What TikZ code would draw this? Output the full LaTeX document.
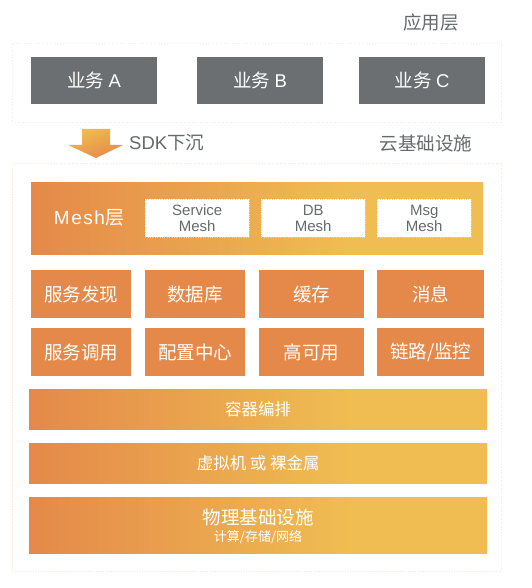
\documentclass[tikz,border=0pt]{standalone}
\usepackage{fontspec}
\setmainfont{Noto Sans CJK SC}
\newfontfamily\lat{Liberation Sans}
\newfontfamily\latsp[LetterSpace=8]{Liberation Sans}
\usetikzlibrary{positioning}
\definecolor{txtgray}{HTML}{666A6C}
\definecolor{boxgray}{HTML}{6B6F71}
\definecolor{org}{HTML}{E5894A}
\definecolor{yel}{HTML}{F0BD52}
\definecolor{midc}{HTML}{ECAE4F}
\definecolor{framegray}{HTML}{EDEDED}
\definecolor{frameorg}{HTML}{FBE6D6}
\pgfdeclarehorizontalshading{layershade}{100bp}{color(0bp)=(org); color(25bp)=(org); color(50bp)=(midc); color(60bp)=(yel); color(100bp)=(yel)}
\tikzset{
  lbl/.style={text=txtgray, font=\fontsize{18.5}{21}\selectfont, inner sep=0pt},
  frame/.style={draw=framegray, line width=0.6pt, dotted},
  biz/.style={fill=boxgray, text=white, font=\fontsize{18.5}{21}\selectfont, anchor=north west, inner sep=0pt, minimum width=126pt, minimum height=47pt},
  comp/.style={fill=org, text=white, font=\fontsize{18.5}{21}\selectfont, anchor=north west, inner sep=0pt, minimum height=48pt},
  meshbox/.style={fill=white, draw=white!85!black, dotted, line width=0.4pt, text=txtgray, font=\lat\fontsize{15}{16}\selectfont, align=center, anchor=north west, inner sep=0pt, minimum height=38pt},
  layer/.style={shading=layershade, text=white, anchor=north west, inner sep=0pt, minimum width=458pt, align=center},
}
\begin{document}
\begin{tikzpicture}[x=1pt,y=-1pt]
\useasboundingbox (0,0) rectangle (531,588);
\fill[white] (0,0) rectangle (531,588);
% frames
\node[frame, anchor=north west, minimum width=489pt, minimum height=79pt, inner sep=0pt] (appframe) at (12,43) {};
\node[frame, draw=frameorg, anchor=north west, minimum width=489pt, minimum height=408pt, inner sep=0pt] (cloudframe) at (12,163) {};
% labels
\node[lbl] (applbl) at (431,22) {应用层};
\node[lbl] (cloudlbl) at (426,143) {云基础设施};
\node[lbl, anchor=west] (sdk) at (129,143) {{\lat SDK}下沉};
% business boxes
\node[biz] (bizA) at (31,57) {业务 {\lat A}};
\node[biz] (bizB) at (197,57) {业务 {\lat B}};
\node[biz] (bizC) at (359,57) {业务 {\lat C}};
% arrow
\shade[top color=yel, bottom color=org, shading angle=20]
  (82,129) -- (110,129) -- (110,145) -- (123,145) -- (96,158) -- (68,145) -- (82,145) -- cycle;
% mesh layer
\node[layer, minimum width=452pt, minimum height=72pt] (mesh) at (31,182) {};
\node[text=white, font=\fontsize{19}{21}\selectfont, inner sep=0pt] (meshlbl) at (89,218) {{\latsp Mesh}层};
\node[meshbox, minimum width=104pt] (svc) at (145,199) {Service\\Mesh};
\node[meshbox, minimum width=104pt] (db) at (261,199) {DB\\Mesh};
\node[meshbox, minimum width=94pt] (msg) at (377,199) {Msg\\Mesh};
% component rows
\node[comp, minimum width=100pt] (c11) at (31,270) {服务发现};
\node[comp, minimum width=100pt] (c12) at (145,270) {数据库};
\node[comp, minimum width=105pt] (c13) at (259,270) {缓存};
\node[comp, minimum width=107pt] (c14) at (377,270) {消息};
\node[comp, minimum width=100pt] (c21) at (31,328) {服务调用};
\node[comp, minimum width=100pt] (c22) at (145,328) {配置中心};
\node[comp, minimum width=105pt] (c23) at (259,328) {高可用};
\node[comp, minimum width=107pt] (c24) at (377,328) {链路/监控};
% bottom layers
\node[layer, minimum height=40pt, font=\fontsize{16.5}{18}\selectfont] (k8s) at (29,389) {容器编排};
\node[layer, minimum height=40pt, font=\fontsize{16.5}{18}\selectfont] (vm) at (29,443) {虚拟机 或 裸金属};
\node[layer, minimum height=56pt] (phys) at (29,497) {};
\node[text=white, font=\fontsize{18.5}{20}\selectfont, inner sep=0pt] (physlbl) at (258,517) {物理基础设施};
\node[text=white, font=\fontsize{13}{14}\selectfont, inner sep=0pt] (physsub) at (258,537) {计算/存储/网络};
\end{tikzpicture}
\end{document}
